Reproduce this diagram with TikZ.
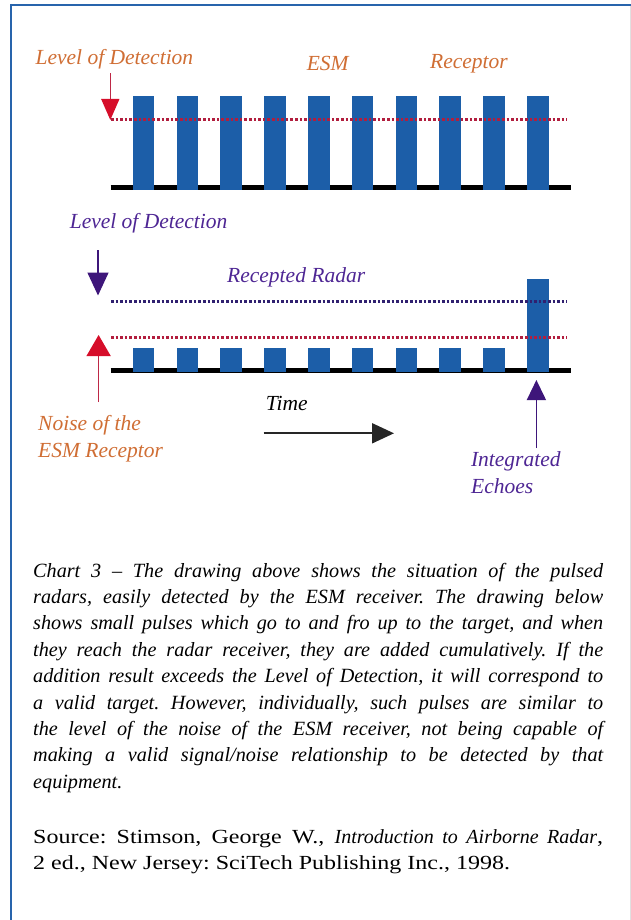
\documentclass[tikz,border=0pt]{standalone}
\usepackage{fontspec}
\setmainfont{Liberation Serif}[UprightFeatures={FakeStretch=1.2}]
\usetikzlibrary{arrows.meta}
\definecolor{frameblue}{RGB}{40,100,172}
\definecolor{barblue}{RGB}{28,94,168}
\definecolor{lblorange}{RGB}{208,110,52}
\definecolor{lblpurple}{RGB}{78,38,148}
\definecolor{arrred}{RGB}{214,14,42}
\definecolor{linered}{RGB}{190,40,70}
\definecolor{dotred}{RGB}{178,30,62}
\definecolor{dotpurple}{RGB}{48,32,112}
\definecolor{arrpurple}{RGB}{62,22,122}
\tikzset{
  lbl/.style={inner sep=0pt, anchor=base west, font=\fontsize{21.5}{24}\selectfont\itshape},
  captxt/.style={inner sep=0pt, anchor=base west, font=\fontsize{20.2}{26}\selectfont\frenchspacing},
  srctxt/.style={inner sep=0pt, anchor=base west, font=\fontsize{20}{26}\selectfont\frenchspacing},
  bar/.style={fill=barblue},
  baseln/.style={line width=5pt, black},
  dotline/.style={line width=2.5pt, dash pattern=on 2.5pt off 2.1pt},
}
\newcommand{\capline}[1]{\makebox[570pt][s]{#1}}
\begin{document}
\begin{tikzpicture}[x=1pt,y=-1pt]
\useasboundingbox (0,0) rectangle (631,920);
\fill[white] (0,0) rectangle (631,920);
% frame
\draw[frameblue, line width=2pt] (10,5) -- (631,5);
\draw[frameblue, line width=1.5pt] (11,4) -- (11,920);
\draw[black!12, line width=1pt] (630,6) -- (630,920);

% ---------- top chart ----------
\draw[baseln] (110.7,187.3) -- (570.6,187.3);
\foreach \i in {0,...,9}
  \fill[bar] ({132.8+43.8*\i},96.5) rectangle ++(21.5,93);
\draw[dotline, dotred] (111,119.3) -- (567,119.3);
\node[lbl, text=lblorange] (ld1) at (35.4,65) {Level of Detection};
\node[lbl, text=lblorange] (esm) at (306.6,70.5) {ESM};
\node[lbl, text=lblorange] (rec) at (430,68.5) {Receptor};
\coordinate (a1s) at (110.3,73.5);
\coordinate (a1e) at (110.3,120);
\draw[linered, line width=1.4pt, -{Triangle[length=21pt,width=18pt,color=arrred,fill=arrred]}] (a1s) -- (a1e);

% ---------- bottom chart ----------
\draw[baseln] (110.7,370) -- (570.6,370);
\foreach \i in {0,...,8}
  \fill[bar] ({132.8+43.8*\i},348.3) rectangle ++(21.5,23.5);
\fill[bar] (527,279) rectangle (549,371.8);
\draw[dotline, dotpurple] (111,301.5) -- (567,301.5);
\draw[dotline, dotred] (111,337.6) -- (567,337.6);
\node[lbl, text=lblpurple] (ld2) at (69.6,228.3) {Level of Detection};
\node[lbl, text=lblpurple] (rr) at (227,282.7) {Recepted Radar};
\node[lbl, text=black] (time) at (265.6,410.7) {Time};
\node[lbl, text=lblorange] (noise1) at (38,430.7) {Noise of the};
\node[lbl, text=lblorange] (noise2) at (38,457.7) {ESM Receptor};
\node[lbl, text=lblpurple] (int1) at (470.8,466.7) {Integrated};
\node[lbl, text=lblpurple] (int2) at (471,493.3) {Echoes};
% arrows
\coordinate (a2s) at (98,250);
\coordinate (a2e) at (98,295.5);
\draw[arrpurple, line width=1.4pt, -{Triangle[length=23pt,width=21pt]}] (a2s) -- (a2e);
\coordinate (a3s) at (98.6,402);
\coordinate (a3e) at (98.6,335);
\draw[linered, line width=1.4pt, -{Triangle[length=21pt,width=24pt,color=arrred,fill=arrred]}] (a3s) -- (a3e);
\coordinate (a4s) at (263.6,433.3);
\coordinate (a4e) at (394,433.3);
\draw[black!85, line width=2pt, -{Triangle[length=22pt,width=20pt]}] (a4s) -- (a4e);
\coordinate (a5s) at (536.4,448);
\coordinate (a5e) at (536.4,380);
\draw[arrpurple, line width=1.4pt, -{Triangle[length=20pt,width=19pt]}] (a5s) -- (a5e);

% ---------- caption ----------
\node[captxt] (c1) at (33,577) {\itshape\capline{Chart 3 -- The drawing above shows the situation of the pulsed}};
\node[captxt] (c2) at (33,603.4) {\itshape\capline{radars, easily detected by the ESM receiver. The drawing below}};
\node[captxt] (c3) at (33,629.8) {\itshape\capline{shows small pulses which go to and fro up to the target, and when}};
\node[captxt] (c4) at (33,656.2) {\itshape\capline{they reach the radar receiver, they are added cumulatively. If the}};
\node[captxt] (c5) at (33,682.6) {\itshape\capline{addition result exceeds the Level of Detection, it will correspond to}};
\node[captxt] (c6) at (33,709) {\itshape\capline{a valid target. However, individually, such pulses are similar to}};
\node[captxt] (c7) at (33,735.4) {\itshape\capline{the level of the noise of the ESM receiver, not being capable of}};
\node[captxt] (c8) at (33,761.8) {\itshape\capline{making a valid signal/noise relationship to be detected by that}};
\node[captxt] (c9) at (33,788.2) {\itshape equipment.};
\node[srctxt] (s1) at (33,843) {\capline{Source: Stimson, George W., \textit{Introduction to Airborne Radar},}};
\node[srctxt] (s2) at (33,869.5) {2 ed., New Jersey: SciTech Publishing Inc., 1998.};
\end{tikzpicture}
\end{document}
